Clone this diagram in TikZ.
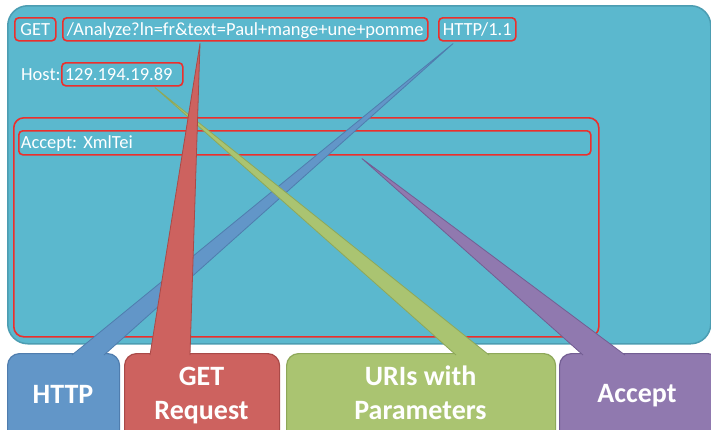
\documentclass[tikz,border=0pt]{standalone}
\usepackage{fontspec}
\setmainfont{Carlito}
\usetikzlibrary{calc}
\frenchspacing

\definecolor{panel}{HTML}{5BB8CE}
\definecolor{panelline}{HTML}{4C9DB2}
\definecolor{mark}{HTML}{EC2F2C}
\definecolor{httpc}{HTML}{6296C8}
\definecolor{httpl}{HTML}{4F7DAE}
\definecolor{getc}{HTML}{CD625F}
\definecolor{getl}{HTML}{A94A48}
\definecolor{uric}{HTML}{AAC471}
\definecolor{uril}{HTML}{8EA85A}
\definecolor{accc}{HTML}{9079AF}
\definecolor{accl}{HTML}{735E93}

\tikzset{
  hl/.style={draw=mark, line width=1.6pt, rounded corners=4pt, inner sep=0pt,
    text=white, font=\fontsize{18.5}{21}\selectfont, text height=12pt, text depth=0pt,
    anchor=north west, minimum height=23pt},
  plain/.style={text=white, font=\fontsize{18.5}{21}\selectfont, inner sep=0pt},
  tab/.style={rounded corners=12pt, line width=1.2pt, anchor=north west,
    inner sep=0pt, minimum height=100pt},
  lbl/.style={text=white, font=\bfseries\fontsize{28}{34}\selectfont,
    inner sep=0pt, anchor=base},
  wedge/.style={line width=0.8pt, line join=round},
}

\begin{document}
\begin{tikzpicture}[x=1pt,y=-1pt]
\useasboundingbox (0,0) rectangle (711,429);
\fill[white] (0,0) rectangle (711,429);

% request panel
\node[draw=panelline, fill=panel, line width=1.5pt, rounded corners=20pt,
  anchor=north west, minimum width=703pt, minimum height=338pt, inner sep=0pt]
  (panel) at (7,5) {};

% request line
\node[hl, minimum width=41pt]  (getw) at (14,17) {GET};
\node[hl, minimum width=365pt] (path) at (62,17) {/Analyze?ln=fr\&text=Paul+mange+une+pomme};
\node[hl, minimum width=77pt]  (ver)  at (438,17) {HTTP/1.1};

% host header
\node[plain, anchor=base west] (hostlbl) at (21,80) {Host:};
\node[hl, minimum width=121pt, text width=115pt, align=left, inner xsep=3pt] (host) at (61,62) {129.194.19.89};

% header block
\node[draw=mark, line width=1.6pt, rounded corners=10pt, anchor=north west,
  minimum width=585pt, minimum height=219pt, inner sep=0pt] (hdrs) at (13,117) {};
\node[hl, text width=568pt, align=left, inner xsep=2pt, minimum height=24pt]
  (acc) at (18,130) {Accept: XmlTei};

% legend tabs
\node[tab, fill=httpc, draw=httpl, minimum width=112pt] (httpbox) at (7,353) {};
\node[tab, fill=getc,  draw=getl,  minimum width=155pt] (getbox)  at (124,353) {};
\node[tab, fill=uric,  draw=uril,  minimum width=269pt] (uribox)  at (286,353) {};
\node[tab, fill=accc,  draw=accl,  minimum width=160pt] (accbox)  at (559,353) {};

% callout wedges
\coordinate (tb) at ($(ver.south west)+(15,2)$);
\coordinate (tbl) at ($(httpbox.north west)+(65,2)$);
\coordinate (tbr) at ($(httpbox.north west)+(97,2)$);
\fill[httpc] (tb) -- (tbl) -- (tbr) -- cycle;
\draw[wedge, httpl] (tbl) -- (tb) -- (tbr);

\coordinate (tg) at ($(host.south west)+(94,1)$);
\coordinate (tgl) at ($(uribox.north west)+(170,2)$);
\coordinate (tgr) at ($(uribox.north west)+(203,2)$);
\fill[uric] (tg) -- (tgl) -- (tgr) -- cycle;
\draw[wedge, uril] (tgl) -- (tg) -- (tgr);

\coordinate (tr) at ($(path.south west)+(138,2)$);
\coordinate (trl) at ($(getbox.north west)+(26,2)$);
\coordinate (trr) at ($(getbox.north west)+(66,2)$);
\fill[getc] (tr) -- (trl) -- (trr) -- cycle;
\draw[wedge, getl] (trl) -- (tr) -- (trr);

\coordinate (tp) at ($(acc.south west)+(344,3)$);
\coordinate (tpl) at ($(accbox.north west)+(24,2)$);
\coordinate (tpr) at ($(accbox.north west)+(66,2)$);
\fill[accc] (tp) -- (tpl) -- (tpr) -- cycle;
\draw[wedge, accl] (tpl) -- (tp) -- (tpr);

% tab labels
\node[lbl] (httplbl) at (63,403) {HTTP};
\node[lbl] (getlbl1) at (201.5,385) {GET};
\node[lbl] (getlbl2) at (201.5,419) {Request};
\node[lbl] (urilbl1) at (420.5,385) {URIs with};
\node[lbl] (urilbl2) at (420.5,419) {Parameters};
\node[lbl] (acclbl)  at (637,402) {Accept};
\end{tikzpicture}
\end{document}
